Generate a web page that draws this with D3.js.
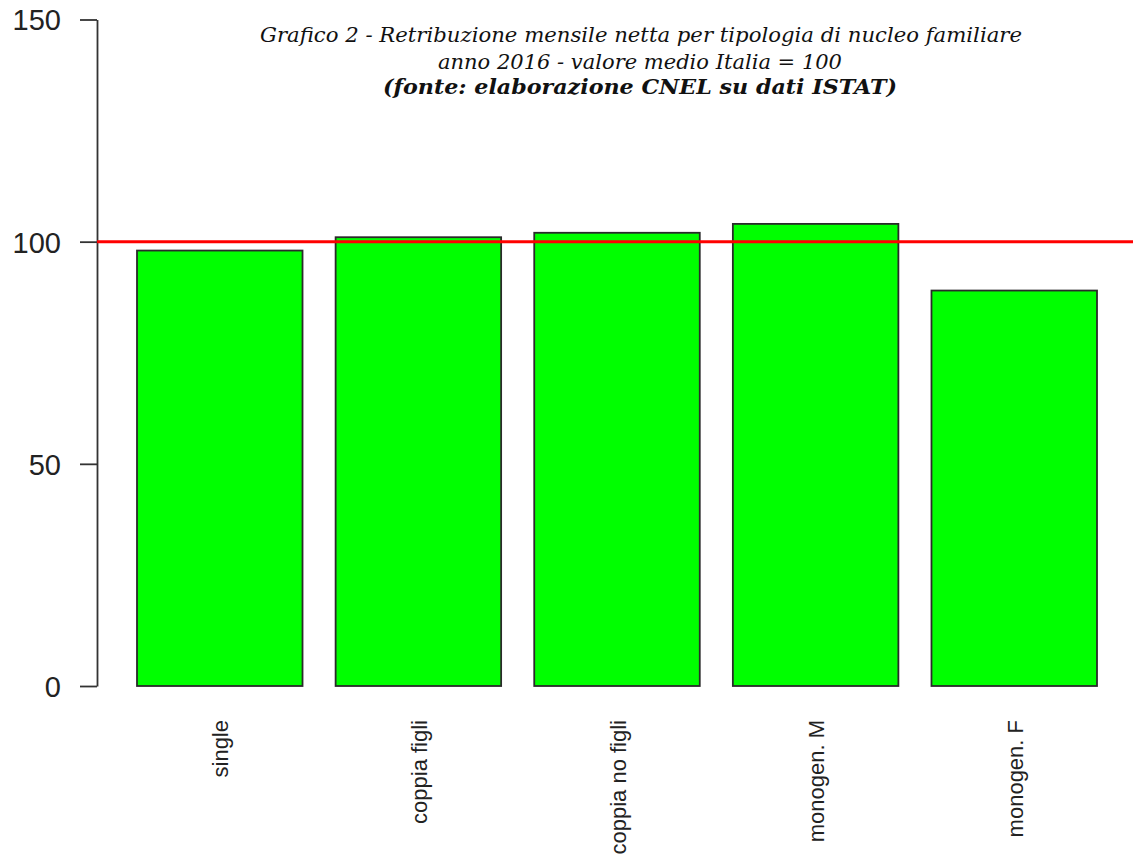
<!DOCTYPE html>
<html>
<head>
<meta charset="utf-8">
<script src="https://cdn.jsdelivr.net/npm/d3@7"></script>
<style>
  html, body { margin: 0; padding: 0; background: #fff; }
  svg { display: block; }
</style>
</head>
<body>
<svg id="chart" width="1133" height="863"></svg>
<script>
const categories = ["single", "coppia figli", "coppia no figli", "monogen. M", "monogen. F"];
const values = [98, 101, 102, 104, 89];
const referenceValue = 100;
const yTicks = [0, 50, 100, 150];
const titleLines = [
  "Grafico 2 - Retribuzione mensile netta per tipologia di nucleo familiare",
  "anno 2016 - valore medio Italia = 100",
  "(fonte: elaborazione CNEL su dati ISTAT)"
];

const W = 1133, H = 863;
const svg = d3.select("#chart");

const y = d3.scaleLinear().domain([0, 150]).range([686, 19.5]);
const x = d3.scaleBand().domain(categories).range([137, 1097])
  .paddingInner(1/6).paddingOuter(0);

// bars
svg.append("g").selectAll("rect").data(values).join("rect")
  .attr("x", (d, i) => x(categories[i]))
  .attr("y", d => y(d))
  .attr("width", x.bandwidth())
  .attr("height", d => y(0) - y(d))
  .attr("fill", "#00ff00")
  .attr("stroke", "#2a2a2a")
  .attr("stroke-width", 1.8);

// y axis
const yAxis = d3.axisLeft(y).tickValues(yTicks).tickSize(17).tickSizeOuter(0).tickPadding(19);
const ga = svg.append("g").attr("transform", "translate(97,0)").call(yAxis);
ga.select(".domain").attr("stroke", "#333").attr("stroke-width", 1.8);
ga.selectAll(".tick line").attr("stroke", "#333").attr("stroke-width", 1.8);
ga.selectAll(".tick text")
  .attr("font-family", "Liberation Sans, Arial, sans-serif")
  .attr("font-size", 29)
  .attr("fill", "#222")
  .attr("dy", "0.36em");

// reference line
svg.append("line")
  .attr("x1", 97).attr("x2", W)
  .attr("y1", y(referenceValue)).attr("y2", y(referenceValue))
  .attr("stroke", "#ff0000").attr("stroke-width", 3);

// x labels
svg.append("g").selectAll("text").data(categories).join("text")
  .attr("transform", d => `translate(${x(d) + x.bandwidth() / 2 + 1},720) rotate(-90)`)
  .attr("text-anchor", "end")
  .attr("dy", "0.35em")
  .attr("font-family", "Liberation Sans, Arial, sans-serif")
  .attr("font-size", 22)
  .attr("fill", "#222")
  .text(d => d);

// title
const titleSpecs = [
  { cx: 641, baseline: 42, width: 762, bold: false },
  { cx: 640, baseline: 69, width: 404, bold: false },
  { cx: 640, baseline: 94, width: 514, bold: true }
];
titleLines.forEach((t, i) => {
  const s = titleSpecs[i];
  svg.append("text")
    .attr("x", s.cx).attr("y", s.baseline)
    .attr("text-anchor", "middle")
    .attr("font-family", "DejaVu Serif, Georgia, serif")
    .attr("font-style", "italic")
    .attr("font-weight", s.bold ? "bold" : "normal")
    .attr("font-size", 20)
    .attr("textLength", s.width)
    .attr("lengthAdjust", "spacingAndGlyphs")
    .attr("fill", "#111")
    .text(t);
});
</script>
</body>
</html>
